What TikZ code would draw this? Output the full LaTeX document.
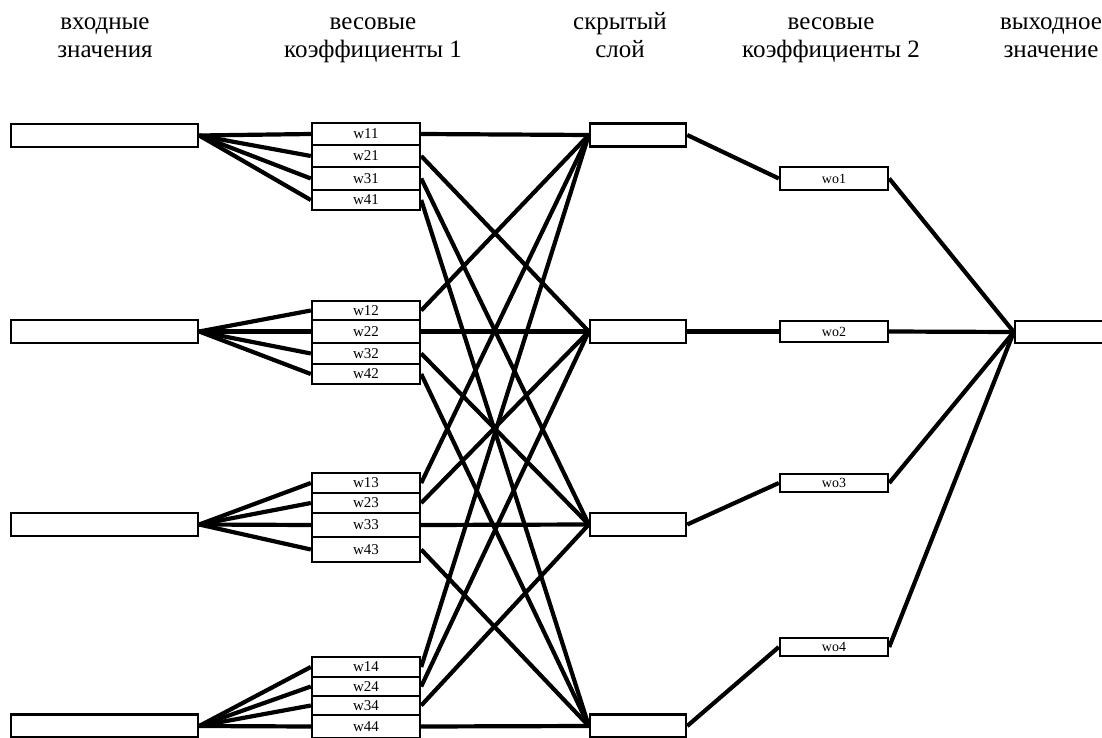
\documentclass[tikz,border=0pt]{standalone}
\usepackage{fontspec}
\setmainfont{Liberation Serif}
\pgfdeclarelayer{bg}
\pgfsetlayers{bg,main}
\begin{document}
\begin{tikzpicture}[x=1pt,y=-1pt,
  box/.style={draw, line width=2.4pt, fill=white, inner sep=0pt, anchor=center},
  inbox/.style={box, minimum width=187pt, minimum height=23pt},
  hidbox/.style={box, minimum width=96pt, minimum height=23pt},
  wbox/.style={box, minimum width=108pt, font=\fontsize{15}{15}\selectfont},
  wobox/.style={box, minimum width=108pt, font=\fontsize{14}{14}\selectfont},
  conn/.style={line width=4.2pt},
  head/.style={anchor=base, font=\fontsize{25}{28}\selectfont, inner sep=0pt}
]
\useasboundingbox (0,0) rectangle (1102,738);
\clip (0,0) rectangle (1102,738);

% headers
\node[head] (h-in-a)  at (105,30)  {входные};
\node[head] (h-in-b)  at (105,58)  {значения};
\node[head] (h-w1-a)  at (373,30)  {весовые};
\node[head] (h-w1-b)  at (373,58)  {коэффициенты 1};
\node[head] (h-hid-a) at (620,30)  {скрытый};
\node[head] (h-hid-b) at (620,58)  {слой};
\node[head] (h-w2-a)  at (831,30)  {весовые};
\node[head] (h-w2-b)  at (831,58)  {коэффициенты 2};
\node[head] (h-out-a) at (1051,30) {выходное};
\node[head] (h-out-b) at (1051,58) {значение};

% input boxes
\node[inbox] (in1) at (104.5,135.5) {};
\node[inbox] (in2) at (104.5,331.5) {};
\node[inbox] (in3) at (104.5,524.5) {};
\node[inbox] (in4) at (104.5,726) {};

% hidden boxes
\node[hidbox] (hd1) at (638,135) {};
\node[hidbox] (hd2) at (638,331.5) {};
\node[hidbox] (hd3) at (638,524.5) {};
\node[hidbox] (hd4) at (638,726) {};

% weight boxes (group 1)
\node[wbox, minimum height=22pt] (w11) at (366,134) {w11};
\node[wbox, minimum height=22pt] (w21) at (366,156) {w21};
\node[wbox, minimum height=23pt] (w31) at (366,178.5) {w31};
\node[wbox, minimum height=20pt] (w41) at (366,200) {w41};
% group 2
\node[wbox, minimum height=19pt] (w12) at (366,310.5) {w12};
\node[wbox, minimum height=23pt] (w22) at (366,331.5) {w22};
\node[wbox, minimum height=21pt] (w32) at (366,353.5) {w32};
\node[wbox, minimum height=20pt] (w42) at (366,374) {w42};
% group 3
\node[wbox, minimum height=20pt] (w13) at (366,483) {w13};
\node[wbox, minimum height=20pt] (w23) at (366,503) {w23};
\node[wbox, minimum height=24pt] (w33) at (366,525) {w33};
\node[wbox, minimum height=25pt] (w43) at (366,549.5) {w43};
% group 4
\node[wbox, minimum height=20pt] (w14) at (366,667) {w14};
\node[wbox, minimum height=19pt] (w24) at (366,686.5) {w24};
\node[wbox, minimum height=19pt] (w34) at (366,705.5) {w34};
\node[wbox, minimum height=23pt] (w44) at (366,726.5) {w44};

% output weights
\node[wobox, minimum height=23pt] (wo1) at (834,178.5) {wo1};
\node[wobox, minimum height=21pt] (wo2) at (834,331.5) {wo2};
\node[wobox, minimum height=18pt] (wo3) at (834,483) {wo3};
\node[wobox, minimum height=18pt] (wo4) at (834,647) {wo4};

% output box
\node[box, minimum width=96pt, minimum height=22pt] (out) at (1063,332) {};

% connectors (behind boxes)
\begin{pgfonlayer}{bg}
\foreach \i in {1,2,3,4}{
  \foreach \j in {1,2,3,4}{
    \draw[conn] (in\i.east) -- (w\j\i.west);
    \draw[conn] (w\j\i.east) -- (hd\j.west);
  }
  \draw[conn] (hd\i.east) -- (wo\i.west);
  \draw[conn] (wo\i.east) -- (out.west);
}
\end{pgfonlayer}
\end{tikzpicture}
\end{document}
